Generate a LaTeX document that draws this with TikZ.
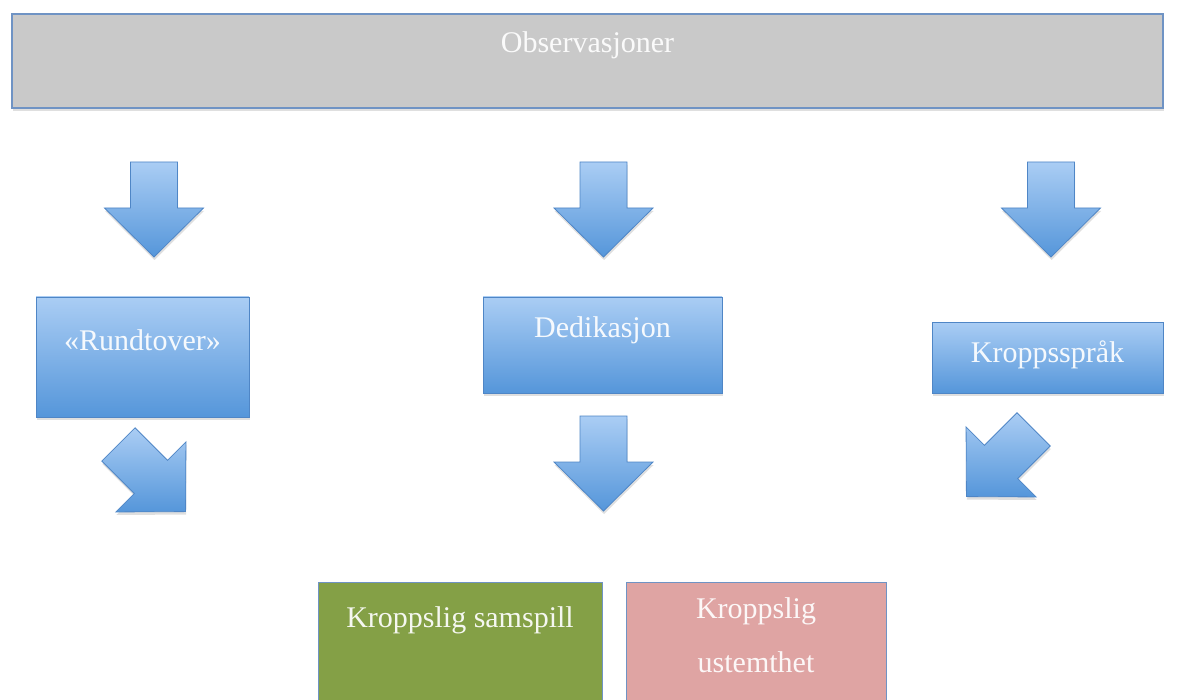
\documentclass[tikz,border=0pt]{standalone}
\usepackage{fontspec}
\setmainfont{Liberation Serif}
\usetikzlibrary{calc,shadows}

\definecolor{graaboks}{HTML}{C9C9C9}
\definecolor{kantblaa}{HTML}{6F93C4}
\definecolor{lysblaa}{HTML}{AACDF4}
\definecolor{morkblaa}{HTML}{5596DA}
\definecolor{blaakant}{HTML}{4F86C6}
\definecolor{olivengronn}{HTML}{84A046}
\definecolor{rosa}{HTML}{DFA4A3}

\begin{document}
\begin{tikzpicture}[
  x=1pt, y=-1pt,
  tekst/.style={font=\fontsize{30}{54}\selectfont, text=white, text opacity=0.92},
  skygge/.style={drop shadow={shadow xshift=0.5pt, shadow yshift=-3pt, opacity=0.25}},
  boks/.style={rectangle, draw, anchor=north, inner ysep=0pt, outer sep=0pt,
               align=center, tekst},
  blaaboks/.style={boks, draw=blaakant, line width=0.8pt, top color=lysblaa,
               bottom color=morkblaa, skygge},
  pilfarge/.style={draw=blaakant, line width=0.8pt, top color=lysblaa,
               bottom color=morkblaa, skygge},
  blokkpil/.pic={\path[pilfarge] (-23.5,-47.5) -- (23.5,-47.5) -- (23.5,-1.5)
               -- (49.5,-1.5) -- (0,47.5) -- (-49.5,-1.5) -- (-23.5,-1.5) -- cycle;}
]
\useasboundingbox[fill=white] (0,0) rectangle (1182,700);
\clip (0,0) rectangle (1182,700);

\node[boks, draw=kantblaa, line width=1.5pt, fill=graaboks, skygge,
      minimum width=1151pt, text height=39pt, text depth=55pt] (obs) at (587.5,14) {Observasjoner};

\node[blaaboks, minimum width=213pt, text height=53pt, text depth=67pt] (rundt) at (142.5,297) {«Rundtover»};
\node[blaaboks, minimum width=239pt, text height=40pt, text depth=56pt] (dedik) at (602.5,297) {Dedikasjon};
\node[blaaboks, minimum width=231pt, text height=40pt, text depth=31pt] (kropp) at (1047.5,322) {Kroppsspråk};

\node[boks, draw=kantblaa, line width=1pt, fill=olivengronn, minimum width=284pt,
      text height=45pt, text depth=85pt] (samspill) at (460,582) {Kroppslig samspill};
\node[boks, draw=kantblaa, line width=1pt, fill=rosa, minimum width=260pt,
      text height=90pt, text depth=40pt] (ustemt) at (756,582) {Kroppslig\\ustemthet};

\pic (pilrundt) at ($(rundt.north)+(11.5,-87.5)$) {blokkpil};
\pic (pildedik) at ($(dedik.north)+(1,-87.5)$) {blokkpil};
\pic (pilkropp) at ($(kropp.north)+(3.5,-112.5)$) {blokkpil};
\pic[rotate=45] (pilsamspill) at ($(rundt.south)+(9.5,61)$) {blokkpil};
\pic (pilned) at ($(dedik.south)+(1,70.5)$) {blokkpil};
\pic[rotate=-45] (pilustemt) at ($(kropp.south)+(-47.5,70)$) {blokkpil};
\end{tikzpicture}
\end{document}
